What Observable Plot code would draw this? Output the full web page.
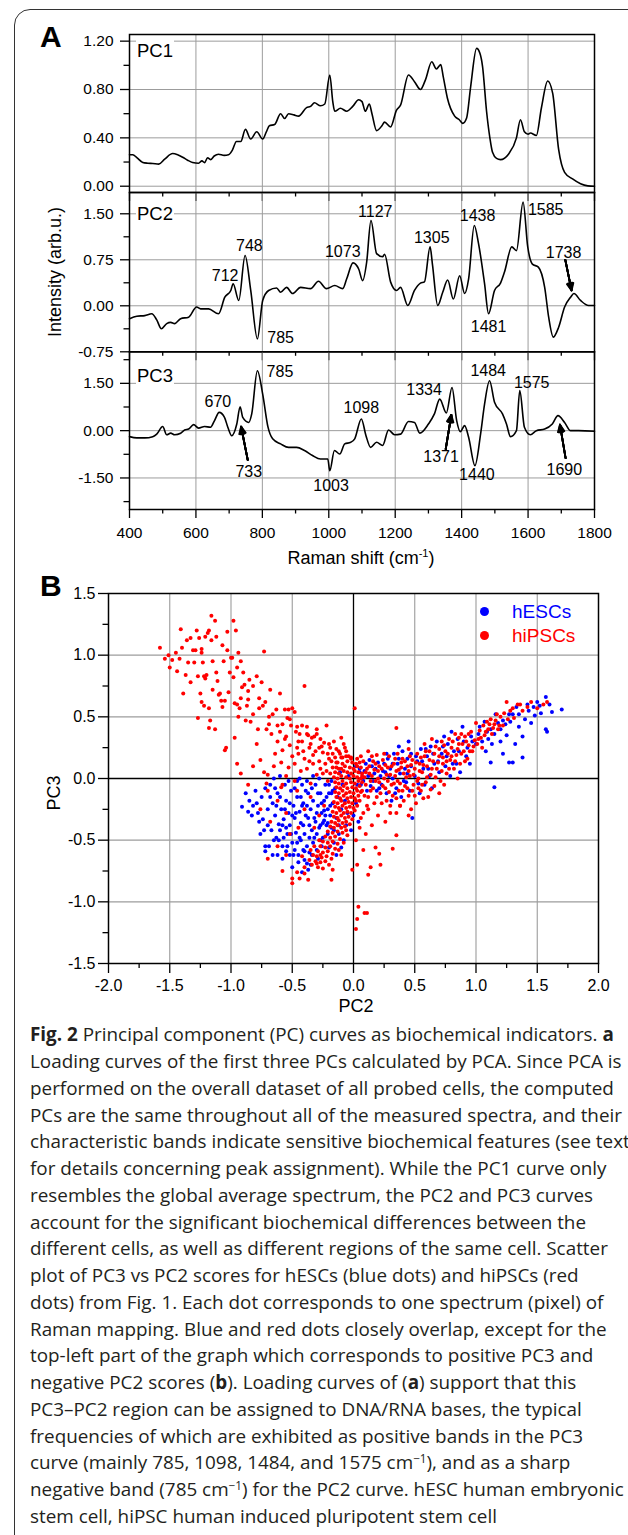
<!DOCTYPE html>
<html><head><meta charset="utf-8">
<script src="https://cdn.jsdelivr.net/npm/d3@7"></script>
<script src="https://cdn.jsdelivr.net/npm/@observablehq/plot@0.6"></script>
<style>
html,body{margin:0;padding:0;background:#fff;}
body{width:628px;height:1535px;position:relative;overflow:hidden;font-family:"Liberation Sans",Arial,sans-serif;color:#000;}
.abs{position:absolute;}
#frame{position:absolute;left:14px;top:9px;width:720px;height:1620px;border:1.5px solid #333;border-radius:16px;box-sizing:border-box;}
.big{position:absolute;font-weight:bold;font-size:30px;line-height:30px;}
.pcl{position:absolute;font-size:18.5px;line-height:18.5px;background:#fff;padding:4px 1px 2px 1px;}
.lab{position:absolute;font-size:18px;white-space:nowrap;}
.leg{position:absolute;font-size:19px;line-height:19px;white-space:nowrap;}
.dotl{position:absolute;width:9px;height:9px;border-radius:50%;}
#cap{position:absolute;left:30px;font-family:"Open Sans","Noto Sans",sans-serif;white-space:nowrap;color:#231f20;}
#cap sup{font-size:0.62em;line-height:0;vertical-align:0.55em;}
</style></head><body>
<div id="frame"></div>
<div id="pc1" class="abs" style="left:0;top:0px"></div>
<div id="pc2" class="abs" style="left:0;top:182px"></div>
<div id="pc3" class="abs" style="left:0;top:341px"></div>
<div id="sc" class="abs" style="left:0;top:580px"></div>
<div class="big" style="left:40px;top:22px">A</div>
<div class="big" style="left:40px;top:571px">B</div>
<div class="pcl" style="left:136px;top:38px">PC1</div>
<div class="pcl" style="left:136px;top:201px">PC2</div>
<div class="pcl" style="left:136px;top:363px">PC3</div>
<div class="lab" style="left:55px;top:272px;transform:translate(-50%,-50%) rotate(-90deg);">Intensity (arb.u.)</div>
<div class="lab" style="left:361px;top:548px;transform:translateX(-50%);">Raman shift (cm<sup style="font-size:11px;vertical-align:7px;line-height:0">-1</sup>)</div>
<div class="lab" style="left:356px;top:996px;transform:translateX(-50%);">PC2</div>
<div class="lab" style="left:54px;top:793px;transform:translate(-50%,-50%) rotate(-90deg);">PC3</div>
<div class="dotl" style="left:479.5px;top:606.5px;background:#0000ff"></div>
<div class="dotl" style="left:479.5px;top:630.5px;background:#ff0000"></div>
<div class="leg" style="left:512px;top:601.5px;color:#0000ff">hESCs</div>
<div class="leg" style="left:512px;top:625.5px;color:#ff0000">hiPSCs</div>
<div id="cap"></div>
<script>
// ---------------- Panel A data: loading curves [Raman shift, intensity]
const pc1Curve = [[400,0.26],[410,0.26],[422,0.237],[440,0.196],[455,0.19],[470,0.188],[488,0.183],[506,0.224],[530,0.27],[545,0.26],[560,0.24],[575,0.215],[590,0.196],[608,0.19],[618,0.21],[626,0.195],[635,0.235],[644,0.22],[655,0.25],[668,0.265],[685,0.255],[698,0.26],[710,0.3],[722,0.37],[735,0.37],[749,0.47],[765,0.39],[783,0.45],[801,0.39],[812,0.45],[821,0.5],[837,0.51],[855,0.6],[867,0.56],[879,0.6],[895,0.59],[909,0.58],[933,0.65],[945,0.66],[957,0.69],[975,0.665],[988,0.68],[1003,0.92],[1012,0.7],[1018,0.62],[1035,0.645],[1054,0.62],[1072,0.66],[1090,0.715],[1100,0.7],[1110,0.62],[1122,0.68],[1130,0.6],[1144,0.46],[1160,0.5],[1168,0.53],[1186,0.49],[1204,0.63],[1216,0.67],[1240,0.92],[1258,0.865],[1276,0.8],[1291,0.88],[1310,1.03],[1324,0.97],[1337,1.006],[1345,0.9],[1357,0.73],[1379,0.58],[1393,0.55],[1403,0.52],[1415,0.565],[1427,0.82],[1445,1.14],[1455,1.1],[1463,0.99],[1475,0.62],[1485,0.4],[1493,0.28],[1505,0.23],[1517,0.22],[1541,0.265],[1565,0.4],[1577,0.55],[1589,0.45],[1600,0.43],[1607,0.44],[1625,0.42],[1640,0.645],[1659,0.87],[1674,0.77],[1692,0.305],[1710,0.115],[1734,0.06],[1758,0.02],[1780,0.003],[1800,0]];
const pc2Curve = [[400,-0.21],[422,-0.17],[446,-0.16],[467,-0.13],[482,-0.23],[496,-0.375],[512,-0.29],[524,-0.27],[536,-0.29],[554,-0.21],[578,-0.185],[602,-0.02],[614,-0.05],[638,-0.05],[668,-0.13],[687,0.14],[705,0.25],[712,0.36],[729,0.087],[748,0.82],[765,0.25],[785,-0.54],[801,0.087],[819,0.25],[843,0.29],[855,0.22],[873,0.3],[891,0.2],[915,0.3],[945,0.28],[969,0.4],[993,0.28],[1018,0.33],[1042,0.28],[1054,0.44],[1073,0.7],[1090,0.6],[1102,0.41],[1114,0.71],[1127,1.39],[1144,0.85],[1162,0.8],[1168,0.84],[1186,0.39],[1204,0.25],[1216,0.3],[1238,0.005],[1258,0.25],[1276,0.37],[1288,0.39],[1305,0.96],[1312,0.68],[1328,0.005],[1343,0.22],[1358,0.42],[1375,0.11],[1394,0.49],[1409,0.2],[1421,0.44],[1438,1.31],[1451,1.01],[1469,0.36],[1481,-0.13],[1499,0.25],[1517,0.37],[1529,0.55],[1551,0.96],[1565,0.9],[1585,1.69],[1599,0.96],[1613,0.68],[1631,0.63],[1650,0.3],[1662,-0.185],[1676,-0.51],[1692,-0.35],[1710,-0.02],[1728,0.14],[1738,0.2],[1758,0.087],[1782,0.005],[1800,0.005]];
const pc3Curve = [[400,-0.19],[422,-0.23],[446,-0.23],[470,-0.19],[482,-0.11],[500,0.13],[512,-0.13],[524,-0.08],[536,-0.13],[554,-0.08],[566,0.02],[578,0.05],[593,0.19],[608,0.08],[626,0.13],[644,0.11],[656,0.32],[670,0.58],[686,0.42],[696,0.11],[708,-0.16],[723,0.21],[733,0.76],[741,0.42],[759,0.26],[768,0.53],[785,1.9],[801,1.16],[817,0.11],[831,-0.26],[855,-0.42],[879,-0.53],[903,-0.53],[927,-0.63],[951,-0.79],[975,-0.9],[997,-0.9],[1003,-1.27],[1017,-0.63],[1033,-0.74],[1048,-0.42],[1066,-0.37],[1078,-0.26],[1098,0.37],[1112,-0.16],[1126,-0.53],[1144,-0.37],[1162,-0.47],[1180,0.02],[1198,-0.13],[1216,-0.11],[1240,0.29],[1258,0.26],[1274,-0.08],[1300,0.21],[1318,0.53],[1334,1.0],[1354,0.56],[1371,1.37],[1385,0.32],[1396,-0.03],[1409,0.16],[1421,-0.21],[1440,-1.11],[1457,-0.11],[1469,0.84],[1484,1.58],[1499,0.9],[1523,0.53],[1535,0.21],[1547,-0.19],[1565,0],[1575,1.27],[1589,0.11],[1607,-0.13],[1625,0],[1650,0.05],[1673,0.21],[1690,0.475],[1710,0.26],[1728,0],[1752,0],[1800,-0.02]];

// peak labels (text, Raman shift, intensity of label centre)
const pc2Labels = [{t:"712",x:688,y:0.48},{t:"748",x:761,y:0.98},{t:"785",x:855,y:-0.53},{t:"1073",x:1042,y:0.875},{t:"1127",x:1140,y:1.53},{t:"1305",x:1310,y:1.10},{t:"1438",x:1448,y:1.46},{t:"1481",x:1481,y:-0.35},{t:"1585",x:1653,y:1.565},{t:"1738",x:1707,y:0.87}];
const pc2Arrows = [{x1:1712,y1:0.75,x2:1731,y2:0.25}];
const pc3Labels = [{t:"670",x:666,y:0.92},{t:"785",x:853,y:1.85},{t:"733",x:759,y:-1.32},{t:"1003",x:1007,y:-1.74},{t:"1098",x:1098,y:0.72},{t:"1334",x:1287,y:1.29},{t:"1371",x:1338,y:-0.83},{t:"1440",x:1446,y:-1.415},{t:"1484",x:1480,y:1.88},{t:"1575",x:1611,y:1.52},{t:"1690",x:1709,y:-1.25}];
const pc3Arrows = [{x1:756,y1:-0.93,x2:736,y2:0.13},{x1:1352,y1:-0.59,x2:1369,y2:0.5},{x1:1713,y1:-0.87,x2:1696,y2:0.19}];

const ramanMajor = [400,600,800,1000,1200,1400,1600,1800];
const ramanMinor = [500,700,900,1100,1300,1500,1700];
const pc1Major = [0,0.4,0.8,1.2], pc1Minor = [0.2,0.6,1.0];
const pc2Major = [-0.75,0,0.75,1.5], pc2Minor = [-0.375,0.375,1.125];
const pc3Major = [-1.5,0,1.5], pc3Minor = [-2.25,-0.75,0.75,2.25];

// ---------------- Panel B data: PC2 / PC3 scores
const hipscArm = [[-1.16,1.32],[-1.13,1.28],[-0.98,1.28],[-1.41,1.21],[-1.28,1.20],[-1.18,1.20],[-1.19,1.18],[-1.12,1.15],[-0.96,1.20],[-1.03,1.19],
[-1.33,1.14],[-1.26,1.14],[-1.21,1.15],[-1.16,1.12],[-1.24,1.05],[-1.31,1.04],[-1.29,1.04],[-1.40,1.06],[-1.58,1.06],[-1.03,1.04],[-0.94,1.02],[-0.73,1.03],[-1.24,1.02],
[-1.54,0.97],[-1.51,1.00],[-1.48,0.96],[-1.42,0.97],[-1.35,0.94],[-1.30,0.94],[-1.23,0.94],[-1.15,0.95],[-1.06,0.95],[-1.00,0.98],[-0.99,0.98],[-0.92,0.95],[-1.44,0.87],[-1.37,0.84],[-1.27,0.83],[-1.22,0.83],[-1.20,0.84],[-1.12,0.86],[-1.01,0.86],[-0.90,0.86],[-0.98,0.82],[-0.79,0.83],[-0.75,0.78],
[-1.11,0.79],[-1.21,0.81],[-0.82,0.75],[-0.91,0.74],[-0.89,0.76],[-0.40,0.75],[-1.39,0.69],[-1.25,0.69],[-1.10,0.68],[-1.09,0.69],[-0.86,0.71],[-0.60,0.69],[-0.77,0.65],[-0.92,0.65],[-1.08,0.63],[-1.05,0.63],[-0.97,0.61],[-0.95,0.60],[-1.22,0.59],[-1.18,0.57],[-1.07,0.58],[-0.93,0.57],[-0.87,0.59],[-0.77,0.57],[-0.74,0.59],[-0.56,0.56],[-0.53,0.56],[-0.50,0.57],
[-0.63,0.56],[-0.66,0.52],[-0.82,0.52],[-0.48,0.54],[-0.54,0.49],[-1.27,0.49],[-1.17,0.47],[-0.88,0.47],[-0.84,0.46],[-0.58,0.44],[-0.69,0.44],[-0.42,0.43],[-0.51,0.43],[-0.62,0.43],[-0.46,0.42],[-0.38,0.42],[-0.22,0.43],[-0.71,0.40],[-1.18,0.41],[-1.13,0.40],
[-0.67,0.36],[-0.38,0.36],[-0.37,0.35],[-0.44,0.36],[-0.30,0.36],[-0.32,0.34],[-0.34,0.33],[-0.97,0.33],[-0.56,0.32],[-0.27,0.32],[-0.10,0.33],[-0.45,0.30],[-0.24,0.29],[-0.79,0.28],[-0.20,0.28],[-0.07,0.25],[-0.46,0.25],[-0.36,0.25],[-0.28,0.25],[-0.19,0.25],[-0.14,0.24],[-0.12,0.22],[-1.05,0.23],[-1.04,0.25],[-0.58,0.23],[-0.15,0.17],[-0.17,0.20],[-0.09,0.17],[-0.04,0.18],[-0.02,0.16],[0.01,0.57],
[-0.95,0.12],[-0.82,0.10],[-0.92,0.04],[-0.73,0.05],[-0.70,0.03],[-0.59,0.13],[-0.53,0.09],[-0.48,0.12],[-0.43,0.06],[-0.40,0.16],[-0.33,0.12],[-0.28,0.14],[-0.27,0.08],[-0.23,0.12],[-0.20,0.16],[-0.17,0.09],[-0.14,0.13],[-0.86,-0.05],[-0.71,-0.04],[-0.59,-0.07],
[-0.62,0.30],[-0.52,0.27],[-0.41,0.22],[-0.33,0.19],[-0.25,0.21],[-0.22,0.06],[-0.30,0.03],[-0.38,0.08],[-0.64,0.20],[-0.76,0.15],[-0.50,0.18],[-0.12,0.08],[-0.19,0.04],
[-0.55,0.34],[-0.47,0.38],[-0.42,0.30],[-0.35,0.28],[-0.31,0.22],[-0.26,0.26],[-0.21,0.20],[-0.18,0.14],[-0.11,0.20],[-0.06,0.22],[-0.08,0.28],[-0.16,0.30],[-0.30,0.40],[-0.52,0.48],[-0.60,0.38],[-0.45,0.20],[-0.36,0.14],[-0.25,0.04],[-0.21,-0.02],[-0.35,-0.04],[-0.65,0.10],[-0.55,0.02],[-0.48,-0.02],[-0.78,0.40],[-0.72,0.62],[-0.68,0.72],[-0.85,0.80],[-0.95,0.90],[-1.07,1.08],[-1.36,1.12],[-1.45,1.02],[-1.50,0.90],[-1.33,0.78],[-1.15,0.72],[-1.02,0.70],[-0.86,0.64],[-0.69,0.50],[-0.94,0.50],[-1.24,0.62]];
const hipscCore = [[-0.10,0.17],[-0.06,0.18],[-0.02,0.17],[0.03,0.16],
[-0.13,0.13],[-0.09,0.12],[-0.05,0.14],[-0.01,0.13],[0.02,0.12],[0.05,0.13],
[-0.14,0.09],[-0.10,0.08],[-0.07,0.10],[-0.03,0.09],[0.00,0.08],[0.03,0.10],[0.06,0.09],
[-0.15,0.05],[-0.12,0.04],[-0.08,0.06],[-0.05,0.05],[-0.02,0.04],[0.01,0.06],[0.04,0.05],[0.07,0.04],
[-0.16,0.01],[-0.13,0.00],[-0.10,0.02],[-0.06,0.01],[-0.03,0.00],[0.00,0.02],[0.03,0.01],[0.06,0.00],
[-0.15,-0.03],[-0.12,-0.04],[-0.09,-0.02],[-0.06,-0.04],[-0.02,-0.03],[0.01,-0.04],[0.04,-0.02],[0.07,-0.03],
[-0.14,-0.07],[-0.11,-0.08],[-0.08,-0.06],[-0.05,-0.08],[-0.01,-0.07],[0.02,-0.08],[0.05,-0.06],
[-0.15,-0.11],[-0.12,-0.12],[-0.09,-0.10],[-0.06,-0.12],[-0.03,-0.11],[0.00,-0.12],[0.03,-0.10],[0.06,-0.11],
[-0.14,-0.15],[-0.11,-0.16],[-0.08,-0.14],[-0.05,-0.16],[-0.02,-0.15],[0.01,-0.16],[0.04,-0.14],
[-0.16,-0.19],[-0.13,-0.20],[-0.10,-0.18],[-0.07,-0.20],[-0.04,-0.19],[-0.01,-0.20],[0.02,-0.18],
[-0.15,-0.23],[-0.12,-0.24],[-0.09,-0.22],[-0.06,-0.24],[-0.03,-0.23],[0.00,-0.24],[0.03,-0.22],
[-0.17,-0.27],[-0.14,-0.28],[-0.11,-0.26],[-0.08,-0.28],[-0.05,-0.27],[-0.02,-0.28],[0.01,-0.26],
[-0.16,-0.31],[-0.13,-0.32],[-0.10,-0.30],[-0.07,-0.32],[-0.04,-0.31],[-0.01,-0.33],
[-0.18,-0.35],[-0.15,-0.36],[-0.12,-0.34],[-0.09,-0.36],[-0.06,-0.35],[-0.03,-0.37],
[-0.19,-0.39],[-0.16,-0.40],[-0.13,-0.38],[-0.10,-0.40],[-0.07,-0.39]];
const hipscTail = [[-0.21,-0.43],[-0.17,-0.44],[-0.13,-0.43],[-0.09,-0.44],[-0.23,-0.47],[-0.19,-0.48],[-0.15,-0.47],[-0.11,-0.49],[-0.25,-0.51],[-0.21,-0.52],[-0.17,-0.51],[-0.13,-0.53],[-0.27,-0.55],[-0.23,-0.56],[-0.19,-0.55],[-0.15,-0.57],[-0.29,-0.59],[-0.25,-0.60],[-0.21,-0.59],[-0.17,-0.61],[-0.30,-0.63],[-0.26,-0.64],[-0.22,-0.63],[-0.18,-0.65],[-0.31,-0.67],[-0.27,-0.68],[-0.23,-0.67],[-0.20,-0.70],[-0.29,-0.72],[-0.25,-0.73],[-0.34,-0.70],[-0.33,-0.62],[-0.36,-0.66],[-0.28,-0.50],[-0.32,-0.55],[-0.12,-0.58],[-0.08,-0.52],[-0.05,-0.46],[-0.06,-0.42],[-0.10,-0.62],
[-0.70,-0.65],[-0.58,-0.75],[-0.50,-0.81],[-0.50,-0.85],[-0.46,-0.76],[-0.44,-0.81],[-0.37,-0.82],[-0.40,-0.77],[-0.30,-0.69],[-0.27,-0.62],[-0.18,-0.82],[-0.17,-0.74],[-0.01,-0.74],[0.03,-0.70],[0.08,-0.58],[0.14,-0.72],[0.18,-0.56],[0.21,-0.61],[0.22,-0.70],[0.12,-0.78],[0.32,-0.57],[0.35,-0.46],[0.04,-1.04],[0.09,-1.09],[0.11,-1.09],[0.03,-1.14],[0.02,-1.22],[-0.40,-0.72],[-0.55,-0.62],[-0.62,-0.55],[-0.42,-0.63],[-0.35,-0.58],[0.05,-0.40],[0.10,-0.45],[0.15,-0.38],[0.20,-0.30],[0.26,-0.35],[0.30,-0.28],[0.38,-0.22],[0.45,-0.30],[0.02,-0.50],[0.06,-0.32],[0.12,-0.25],[-0.68,-0.35],[-0.76,-0.25],[-0.70,-0.10],[-0.62,-0.18],[-0.55,-0.28],[-0.52,-0.45],[-0.45,-0.40],[-0.40,-0.25],[-0.35,-0.15],[-0.28,-0.30],[-0.24,-0.22],[-0.32,-0.40],[-0.58,-0.05],[-0.46,-0.10]];
const hipscRight = [[0.08,0.14],[0.10,0.05],[0.10,-0.05],[0.12,-0.15],[0.13,0.10],[0.15,0.02],[0.16,-0.08],[0.17,-0.20],[0.18,0.12],[0.20,0.06],[0.21,-0.03],[0.22,-0.12],[0.24,0.15],[0.25,0.00],[0.26,-0.08],[0.27,-0.18],[0.28,0.09],[0.30,0.03],[0.31,-0.05],[0.32,-0.14],[0.33,0.12],[0.35,0.06],[0.36,-0.02],[0.37,-0.10],[0.38,-0.22],[0.40,0.16],[0.41,0.04],[0.42,-0.06],[0.35,0.41],[0.44,0.10],[0.45,-0.14],[0.46,0.02],[0.48,0.15],[0.49,-0.05],[0.50,0.08],[0.51,-0.20],[0.52,0.20],[0.53,0.00],[0.54,0.12],[0.55,-0.10],[0.56,0.05],[0.58,0.18],[0.59,-0.03],[0.60,0.10],[0.61,-0.15],[0.62,0.22],[0.63,0.03],[0.65,0.14],[0.66,-0.06],[0.67,0.26],[0.68,0.08],[0.70,0.18],[0.71,-0.02],[0.72,0.30],[0.73,0.12],[0.75,0.22],[0.76,0.04],[0.78,0.32],[0.79,0.15],[0.80,0.25],[0.82,0.08],[0.83,0.36],[0.84,0.19],[0.86,0.28],[0.87,0.12],[0.88,0.36],[0.90,0.22],[0.91,0.34],[0.93,0.16],[0.94,0.27],[0.96,0.38],[0.97,0.22],[0.99,0.31],[1.00,0.45],[1.01,0.28],[1.03,0.39],[1.04,0.33],[1.06,0.43],[1.07,0.35],[1.09,0.46],[1.10,0.40],[1.12,0.48],[1.13,0.36],[1.15,0.44],[1.17,0.52],[1.18,0.40],[1.20,0.50],[1.22,0.43],[1.25,0.62],[1.28,0.55],[1.31,0.49],[1.34,0.60],[1.38,0.55],[1.45,0.62],[1.50,0.57],[1.55,0.60],[1.58,0.62],[0.12,0.22],[0.19,0.19],[0.06,0.18],[0.35,-0.28],[0.47,-0.25],[0.57,-0.16],[0.70,-0.12],[0.74,-0.05],[0.85,0.00],[0.34,0.16],[0.45,0.24],[0.58,0.28],[0.64,0.32],[0.05,-0.18],[0.08,-0.28],[0.09,0.01],[0.14,-0.10],[0.18,-0.02],[0.23,0.08],[0.29,-0.11],[0.39,0.09],[0.47,0.11],[0.53,-0.08],[0.25,0.20],[0.15,0.18],[0.07,-0.10],[0.11,0.08],
[0.07,0.02],[0.09,-0.14],[0.11,-0.22],[0.13,0.04],[0.14,-0.02],[0.16,0.14],[0.17,0.07],[0.19,-0.15],[0.20,0.00],[0.21,0.10],[0.23,-0.20],[0.24,-0.06],[0.26,0.11],[0.27,0.03],[0.28,-0.02],[0.29,0.18],[0.30,-0.22],[0.31,0.10],[0.33,-0.04],[0.34,0.02],[0.35,-0.16],[0.36,0.20],[0.37,0.07],[0.38,-0.04],[0.39,0.13],[0.40,-0.10],[0.41,-0.18],[0.42,0.14],[0.43,0.01],[0.44,-0.08],[0.45,0.06],[0.46,0.18],[0.48,-0.10],[0.49,0.03],[0.50,-0.14],[0.51,0.13],[0.52,-0.02],[0.54,0.06],[0.55,0.17],[0.56,-0.05],[0.57,0.11],[0.59,0.22],[0.60,0.01],[0.62,0.15],[0.63,-0.09],[0.64,0.08],[0.66,0.20],[0.67,0.01],[0.69,0.13],[0.70,0.24],[0.72,0.06],[0.73,0.17],[0.74,0.27],[0.76,0.14],[0.77,0.20],[0.78,0.08],[0.80,0.18],[0.81,0.30],[0.83,0.14],[0.85,0.24],[0.86,0.33],[0.88,0.20],[0.89,0.28],[0.91,0.14],[0.92,0.30],[0.94,0.36],[0.95,0.22],[0.98,0.26],[1.02,0.32],[1.05,0.25],[1.08,0.38],[1.11,0.44],[1.14,0.41],[1.16,0.47],[1.19,0.43],[1.23,0.53],[1.26,0.48],[1.30,0.57],[1.36,0.60],[1.42,0.58]];
const hescLeft = [[-0.91,-0.23],[-0.83,-0.30],[-0.79,-0.20],[-0.74,-0.33],[-0.73,-0.42],[-0.72,-0.55],[-0.72,-0.59],[-0.65,-0.50],[-0.63,-0.48],[-0.61,-0.37],[-0.58,-0.55],[-0.55,-0.59],[-0.50,-0.72],[-0.48,-0.58],[-0.43,-0.50],[-0.40,-0.59],[-0.38,-0.69],[-0.37,-0.74],[-0.33,-0.52],[-0.30,-0.45],[-0.27,-0.38],[-0.24,-0.34],[-0.42,-0.76],
[-0.86,-0.27],[-0.80,-0.10],[-0.75,-0.15],[-0.70,-0.25],[-0.68,-0.05],[-0.66,-0.20],[-0.64,-0.30],[-0.62,-0.12],[-0.60,-0.42],[-0.59,-0.25],[-0.57,-0.33],[-0.56,-0.05],[-0.55,-0.18],[-0.54,-0.45],[-0.53,-0.28],[-0.52,-0.38],[-0.51,-0.10],[-0.50,-0.52],[-0.49,-0.22],[-0.48,-0.32],[-0.47,-0.44],[-0.46,-0.15],[-0.45,-0.62],[-0.44,-0.27],[-0.43,-0.36],[-0.42,-0.05],[-0.41,-0.20],[-0.40,-0.45],[-0.39,-0.30],[-0.38,-0.55],[-0.37,-0.12],[-0.36,-0.38],[-0.35,-0.25],[-0.34,-0.62],[-0.33,-0.18],[-0.32,-0.32],[-0.31,-0.05],[-0.30,-0.58],[-0.29,-0.22],[-0.28,-0.40],[-0.27,-0.12],[-0.26,-0.28],[-0.25,-0.48],[-0.24,-0.18],[-0.23,-0.05],[-0.22,-0.38],[-0.21,-0.25],[-0.20,-0.12],[-0.19,-0.30],[-0.18,-0.02],[-0.17,-0.20],[-0.16,-0.42],
[-0.58,-0.65],[-0.52,-0.62],[-0.45,-0.68],[-0.40,-0.66],[-0.35,-0.70],[-0.62,-0.62],[-0.67,-0.42],[-0.69,-0.55],[-0.53,-0.02],[-0.48,-0.08],[-0.44,0.00],[-0.38,-0.02],[-0.33,0.02],[-0.28,0.00],[-0.60,0.02],[-0.65,0.00],[-0.72,-0.08],[-0.77,-0.35],[-0.85,-0.18],[-0.63,-0.22],[-0.57,-0.48],[-0.46,-0.52],[-0.41,-0.38],[-0.36,-0.48],[-0.31,-0.35],[-0.26,-0.55],[-0.21,-0.45],[-0.29,-0.65],[-0.55,-0.40],[-0.50,-0.30],[-0.43,-0.15],[-0.38,-0.22],[-0.34,-0.42],[-0.24,-0.26],
[-0.88,-0.12],[-0.82,-0.22],[-0.78,-0.28],[-0.76,-0.45],[-0.70,-0.38],[-0.68,-0.15],[-0.66,-0.62],[-0.64,-0.08],[-0.61,-0.50],[-0.60,-0.15],[-0.58,-0.38],[-0.56,-0.25],[-0.54,-0.55],[-0.52,-0.20],[-0.51,-0.45],[-0.49,-0.62],[-0.47,-0.28],[-0.46,-0.02],[-0.44,-0.48],[-0.42,-0.22],[-0.41,-0.58],[-0.39,-0.10],[-0.37,-0.32],[-0.36,-0.60],[-0.34,-0.08],[-0.32,-0.48],[-0.30,-0.28],[-0.29,-0.12],[-0.27,-0.50],[-0.26,-0.20],[-0.25,-0.36],[-0.23,-0.30],[-0.22,-0.15],[-0.21,-0.36],[-0.20,-0.05],[-0.19,-0.22],[-0.18,-0.40],[-0.17,-0.10]];
const hescCore = [[-0.12,-0.45],[-0.08,-0.50],[-0.14,-0.32],[-0.10,-0.25],[-0.06,-0.38],[-0.02,-0.42],[0.00,-0.30],[-0.13,-0.15],[-0.09,-0.05],[-0.04,0.02],[0.02,-0.20],[0.04,-0.35],[-0.11,0.05],[-0.15,-0.08],[-0.07,-0.18],[-0.05,-0.28],[0.03,-0.05],[0.05,0.05],[-0.16,-0.52],[-0.10,-0.56],[-0.18,-0.12],[-0.12,-0.38],[-0.20,-0.56],[-0.14,-0.62]];
const hescRight = [[0.05,0.08],[0.08,-0.02],[0.10,0.12],[0.12,0.02],[0.14,-0.06],[0.15,0.10],[0.17,0.04],[0.19,-0.10],[0.20,0.13],[0.22,0.02],[0.23,-0.05],[0.25,0.12],[0.26,0.05],[0.27,-0.12],[0.28,0.16],[0.30,0.08],[0.31,-0.18],[0.32,0.00],[0.33,0.20],[0.35,-0.08],[0.36,0.12],[0.38,0.04],[0.39,-0.15],[0.40,0.22],[0.42,0.08],[0.43,-0.03],[0.44,0.16],[0.46,-0.10],[0.47,0.20],[0.48,-0.32],[0.50,0.02],[0.52,0.14],[0.54,-0.12],[0.55,0.24],[0.57,0.08],[0.60,0.18],[0.62,0.02],[0.63,0.26],[0.66,0.12],[0.68,0.30],[0.70,0.05],[0.72,0.20],[0.74,0.34],[0.75,0.10],[0.77,0.28],[0.79,0.02],[0.80,0.38],[0.82,0.22],[0.85,0.32],[0.87,0.05],[0.89,0.42],[0.92,0.18],[0.95,0.12],[0.97,0.30],[1.00,0.28],[1.02,0.36],[1.05,0.30],[1.07,0.46],[1.10,0.32],[1.12,0.40],[1.12,0.13],[1.13,0.28],[1.15,-0.07],[1.18,0.45],[1.22,0.47],[1.22,0.20],[1.25,0.35],[1.27,0.52],[1.27,0.13],[1.30,0.52],[1.30,0.13],[1.32,0.28],[1.38,0.17],[1.40,0.48],[1.43,0.55],[1.48,0.51],[1.53,0.53],[1.57,0.66],[1.58,0.38],[1.57,0.40],[1.70,0.56],[1.35,0.42],[1.45,0.45],[1.20,0.30],[1.08,0.22],[0.93,0.25],[0.84,0.12],[0.64,-0.08],[0.58,-0.05],[0.45,0.30],[0.37,0.26],[0.02,0.10],[1.16,0.52],[1.33,0.58],[1.50,0.62],[1.62,0.54],[1.38,0.34],
[0.06,-0.05],[0.09,0.06],[0.11,-0.10],[0.13,0.15],[0.16,-0.02],[0.18,0.08],[0.21,-0.08],[0.24,0.06],[0.27,0.20],[0.29,0.02],[0.32,0.12],[0.34,-0.12],[0.37,0.16],[0.41,-0.02],[0.44,0.04],[0.47,0.10],[0.51,0.18],[0.53,-0.04],[0.56,0.14],[0.59,0.24],[0.61,0.08],[0.65,0.20],[0.69,0.14],[0.73,0.26],[0.76,0.18],[0.81,0.12],[0.86,0.22],[0.90,0.30],[0.96,0.34],[1.03,0.42],[1.09,0.38],[1.15,0.36],[1.20,0.40],[1.24,0.44],[1.28,0.46],[1.35,0.52],[1.42,0.60],[1.47,0.58],[1.52,0.59],[1.60,0.60]];
const scoreMajor = [-2,-1.5,-1,-0.5,0,0.5,1,1.5,2];
const scoreMinor = [-1.75,-1.25,-0.75,-0.25,0.25,0.75,1.25,1.75];
const scoreMajorY = [-1.5,-1,-0.5,0,0.5,1,1.5];
const scoreMinorY = [-1.25,-0.75,-0.25,0.25,0.75,1.25];

const hescs = [...hescLeft, ...hescCore, ...hescRight];
const hipscs = [...hipscArm, ...hipscCore, ...hipscTail, ...hipscRight];

// ---------------- drawing
const FONT = '"Liberation Sans", Arial, sans-serif';
const GRID = "#9c9c9c";
const STYLE = {background: "none", overflow: "visible", fontFamily: FONT, fontSize: "15.5px", color: "black"};

function specPlot(cfg) {
  const marks = [
    Plot.ruleX(ramanMajor.slice(1, -1), {stroke: GRID, strokeWidth: 1}),
    Plot.ruleY(cfg.yMajor, {stroke: GRID, strokeWidth: 1}),
    Plot.line(cfg.data, {x: d => d[0], y: d => d[1], curve: "monotone-x", stroke: "black", strokeWidth: 1.6}),
    Plot.axisX({ticks: ramanMajor, tickSize: 9, tickPadding: 8, tickFormat: cfg.showX ? (d => String(d)) : (() => ""), label: null, strokeWidth: 1.3, fontSize: 15.5}),
    Plot.axisX({ticks: ramanMinor, tickSize: 4.5, tickFormat: () => "", label: null, strokeWidth: 1.3}),
    Plot.axisY({ticks: cfg.yMajor, tickSize: 9, tickPadding: 7, tickFormat: d => d.toFixed(2), label: null, strokeWidth: 1.3, fontSize: 15.5}),
    Plot.axisY({ticks: cfg.yMinor, tickSize: 5.5, tickFormat: () => "", label: null, strokeWidth: 1.3}),
    Plot.frame({stroke: "black", strokeWidth: 1.5})
  ];
  if (cfg.labels) marks.push(Plot.text(cfg.labels, {x: "x", y: "y", text: "t", fontSize: 16, fill: "black"}));
  if (cfg.arrows) for (const a of [50, 38, 26, 14, 4]) {
    marks.push(Plot.arrow(cfg.arrows, {x1: "x1", y1: "y1", x2: "x2", y2: "y2", headAngle: a, headLength: 6.5, strokeWidth: 1.8, stroke: "black"}));
  }
  return Plot.plot({
    width: 628, height: cfg.height, marginTop: cfg.mt, marginBottom: cfg.height - cfg.mt - cfg.h,
    marginLeft: 129, marginRight: 34,
    x: {domain: [400, 1800]}, y: {domain: cfg.yDomain},
    style: STYLE, marks
  });
}

document.getElementById("pc1").append(specPlot({data: pc1Curve, yDomain: [-0.052, 1.255], yMajor: pc1Major, yMinor: pc1Minor, height: 210, mt: 34, h: 158}));
document.getElementById("pc2").append(specPlot({data: pc2Curve, yDomain: [-0.75, 1.847], yMajor: pc2Major, yMinor: pc2Minor, height: 190, mt: 10, h: 159.3, labels: pc2Labels, arrows: pc2Arrows}));
document.getElementById("pc3").append(specPlot({data: pc3Curve, yDomain: [-2.5, 2.5], yMajor: pc3Major, yMinor: pc3Minor, height: 210, mt: 10.3, h: 157.7, labels: pc3Labels, arrows: pc3Arrows, showX: true}));

const f1 = d => d.toFixed(1);
const scatter = Plot.plot({
  width: 628, height: 420, marginTop: 13, marginBottom: 37, marginLeft: 108, marginRight: 30,
  x: {domain: [-2, 2]}, y: {domain: [-1.5, 1.5]},
  style: {...STYLE, fontSize: "16px"},
  marks: [
    Plot.ruleX(scoreMajor.filter(d => d !== 0 && Math.abs(d) < 2), {stroke: GRID, strokeWidth: 1.1}),
    Plot.ruleY(scoreMajorY.filter(d => d !== 0 && Math.abs(d) < 1.5), {stroke: GRID, strokeWidth: 1.1}),
    Plot.ruleX([0], {stroke: "black", strokeWidth: 1.3}),
    Plot.ruleY([0], {stroke: "black", strokeWidth: 1.3}),
    Plot.dot(hescs, {x: d => d[0], y: d => d[1], r: 2, fill: "#0000ff", stroke: "none"}),
    Plot.dot(hipscs, {x: d => d[0], y: d => d[1], r: 2, fill: "#ff0000", stroke: "none"}),
    Plot.axisX({ticks: scoreMajor, tickSize: 10, tickPadding: 6, tickFormat: f1, label: null, strokeWidth: 1.3, fontSize: 16}),
    Plot.axisX({ticks: scoreMinor, tickSize: 5, tickFormat: () => "", label: null, strokeWidth: 1.3}),
    Plot.axisY({ticks: scoreMajorY, tickSize: 10, tickPadding: 3, tickFormat: f1, label: null, strokeWidth: 1.3, fontSize: 16}),
    Plot.axisY({ticks: scoreMinorY, tickSize: 5.5, tickFormat: () => "", label: null, strokeWidth: 1.3}),
    Plot.frame({stroke: "black", strokeWidth: 1.5})
  ]
});
document.getElementById("sc").append(scatter);

// ---------------- caption
const captionLines = [
  "<b>Fig. 2</b> Principal component (PC) curves as biochemical indicators. <b>a</b>",
  "Loading curves of the first three PCs calculated by PCA. Since PCA is",
  "performed on the overall dataset of all probed cells, the computed",
  "PCs are the same throughout all of the measured spectra, and their",
  "characteristic bands indicate sensitive biochemical features (see text",
  "for details concerning peak assignment). While the PC1 curve only",
  "resembles the global average spectrum, the PC2 and PC3 curves",
  "account for the significant biochemical differences between the",
  "different cells, as well as different regions of the same cell. Scatter",
  "plot of PC3 vs PC2 scores for hESCs (blue dots) and hiPSCs (red",
  "dots) from Fig. 1. Each dot corresponds to one spectrum (pixel) of",
  "Raman mapping. Blue and red dots closely overlap, except for the",
  "top-left part of the graph which corresponds to positive PC3 and",
  "negative PC2 scores (<b>b</b>). Loading curves of (<b>a</b>) support that this",
  "PC3–PC2 region can be assigned to DNA/RNA bases, the typical",
  "frequencies of which are exhibited as positive bands in the PC3",
  "curve (mainly 785, 1098, 1484, and 1575 cm<sup>−1</sup>), and as a sharp",
  "negative band (785 cm<sup>−1</sup>) for the PC2 curve. hESC human embryonic",
  "stem cell, hiPSC human induced pluripotent stem cell"
];
const cap = document.getElementById("cap");
cap.innerHTML = captionLines.map(l => `<div class="cl">${l}</div>`).join("");
let fs = 16;
cap.style.fontSize = fs + "px";
const rows = cap.querySelectorAll(".cl");
rows.forEach(r => { r.style.display = "inline-block"; });
const w2 = rows[1].getBoundingClientRect().width;
const w18 = rows[17].getBoundingClientRect().width;
fs = fs * ((597 / w2) + (589 / w18)) / 2;
cap.style.fontSize = fs.toFixed(2) + "px";
rows.forEach(r => { r.style.display = "block"; r.style.height = "26.75px"; r.style.lineHeight = "26.75px"; });
cap.style.top = (1042 - ((26.75 - 1.362 * fs) / 2 + 1.069 * fs)).toFixed(1) + "px";
</script>
</body></html>
